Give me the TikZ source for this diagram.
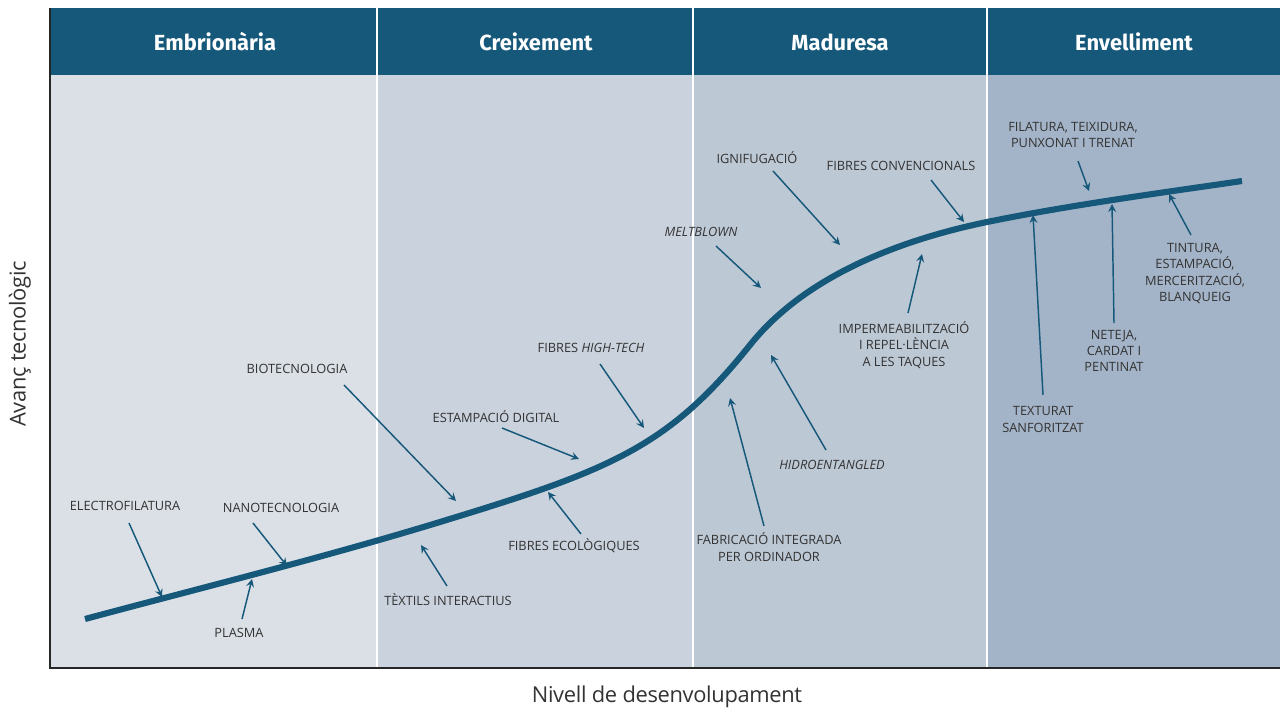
\documentclass[tikz,border=0pt]{standalone}
\usepackage{fontspec}
\setmainfont{Open Sans}
\newfontfamily\headfont{Fira Sans}
\usetikzlibrary{arrows.meta}
\definecolor{dblue}{HTML}{16587A}
\definecolor{colA}{HTML}{DBE0E7}
\definecolor{colB}{HTML}{CAD2DE}
\definecolor{colC}{HTML}{BDC8D5}
\definecolor{colD}{HTML}{A4B4C8}
\definecolor{txt}{HTML}{333333}
\tikzset{
  head/.style={text=white,font=\headfont\bfseries\fontsize{16.4}{19}\selectfont},
  lab/.style={text=txt,font=\fontsize{9.6}{12.3}\selectfont,align=center,inner sep=0pt},
  pt/.style={draw=dblue,line width=1.1pt,-{Stealth[length=6pt,width=6pt,inset=2.2pt]}},
  axt/.style={text=txt,font=\fontsize{16.4}{20}\selectfont\addfontfeatures{LetterSpace=-1.5}}
}
\begin{document}
\begin{tikzpicture}[x=0.75pt,y=-0.75pt]
\useasboundingbox (0,0) rectangle (1280,711);
% backgrounds
\fill[colA] (50,75) rectangle (377,668);
\fill[colB] (377,75) rectangle (693,668);
\fill[colC] (693,75) rectangle (987,668);
\fill[colD] (987,75) rectangle (1280,668);
\fill[dblue] (50,8) rectangle (1280,75);
\foreach \x in {377,693,987} \draw[white,line width=1.2pt] (\x,8) -- (\x,668);
\draw[black!85,line width=1.5pt] (50,8) -- (50,668) -- (1280,668);
% headers
\node[head] (h1) at (215,42) {Embrionària};
\node[head] (h2) at (536,42) {Creixement};
\node[head] (h3) at (840,42) {Maduresa};
\node[head] (h4) at (1134,42) {Envelliment};
% axis titles
\node[axt,rotate=90] (ay) at (20,344) {Avanç tecnològic};
\node[axt] (ax) at (667,697) {Nivell de desenvolupament};
% curve
\draw[dblue,line width=4.6pt,line cap=butt]
 (85,619) .. controls (208,586) and (330,556) .. (453,518)
 .. controls (613,469) and (670,445) .. (750,345)
 .. controls (805,276) and (900,240) .. (987,222)
 .. controls (1070,205) and (1160,193) .. (1242,181);
% labels
\node[lab] (l1) at (125,506) {ELECTROFILATURA};
\node[lab] (l2) at (281,508) {NANOTECNOLOGIA};
\node[lab] (l3) at (239,633) {PLASMA};
\node[lab] (l4) at (297,369) {BIOTECNOLOGIA};
\node[lab] (l5) at (448,600) {TÈXTILS INTERACTIUS};
\node[lab] (l6) at (496,417) {ESTAMPACIÓ DIGITAL};
\node[lab] (l7) at (574,546) {FIBRES ECOLÒGIQUES};
\node[lab] (l8) at (591,348) {FIBRES \textit{HIGH-TECH}};
\node[lab] (l9) at (701,232) {\textit{MELTBLOWN}};
\node[lab] (l10) at (757,158) {IGNIFUGACIÓ};
\node[lab] (l11) at (901,166) {FIBRES CONVENCIONALS};
\node[lab] (l12) at (904,345) {IMPERMEABILITZACIÓ\\I REPEL·LÈNCIA\\A LES TAQUES};
\node[lab] (l13) at (832,465) {\textit{HIDROENTANGLED}};
\node[lab] (l14) at (769,547) {FABRICACIÓ INTEGRADA\\PER ORDINADOR};
\node[lab] (l15) at (1073,135) {FILATURA, TEIXIDURA,\\PUNXONAT I TRENAT};
\node[lab] (l16) at (1043,419.5) {TEXTURAT\\SANFORITZAT};
\node[lab] (l17) at (1114,351) {NETEJA,\\CARDAT I\\PENTINAT};
\node[lab] (l18) at (1195,273.5) {TINTURA,\\ESTAMPACIÓ,\\MERCERITZACIÓ,\\BLANQUEIG};
% arrow end coordinates
\coordinate (s1) at (129,523); \coordinate (t1) at (162,597);
\coordinate (s2) at (253,523); \coordinate (t2) at (287,566);
\coordinate (s3) at (242,619); \coordinate (t3) at (252,579);
\coordinate (s4) at (344,385); \coordinate (t4) at (456,501);
\coordinate (s5) at (447,586); \coordinate (t5) at (421,545);
\coordinate (s6) at (502,428); \coordinate (t6) at (579,459);
\coordinate (s7) at (581,534); \coordinate (t7) at (548,492);
\coordinate (s8) at (600,364); \coordinate (t8) at (644,428);
\coordinate (s9) at (716,246); \coordinate (t9) at (761,288);
\coordinate (s10) at (773,171); \coordinate (t10) at (840,245);
\coordinate (s11) at (931,180); \coordinate (t11) at (964,222);
\coordinate (s12) at (908,313); \coordinate (t12) at (922,254);
\coordinate (s13) at (826,450); \coordinate (t13) at (771,355);
\coordinate (s14) at (764,526); \coordinate (t14) at (730,398);
\coordinate (s15) at (1078,161); \coordinate (t15) at (1089,191);
\coordinate (s16) at (1043,395); \coordinate (t16) at (1033,215);
\coordinate (s17) at (1114,323); \coordinate (t17) at (1112,204);
\coordinate (s18) at (1191,235); \coordinate (t18) at (1169,194);
\foreach \i in {1,...,18} \draw[pt] (s\i) -- (t\i);
\end{tikzpicture}
\end{document}
